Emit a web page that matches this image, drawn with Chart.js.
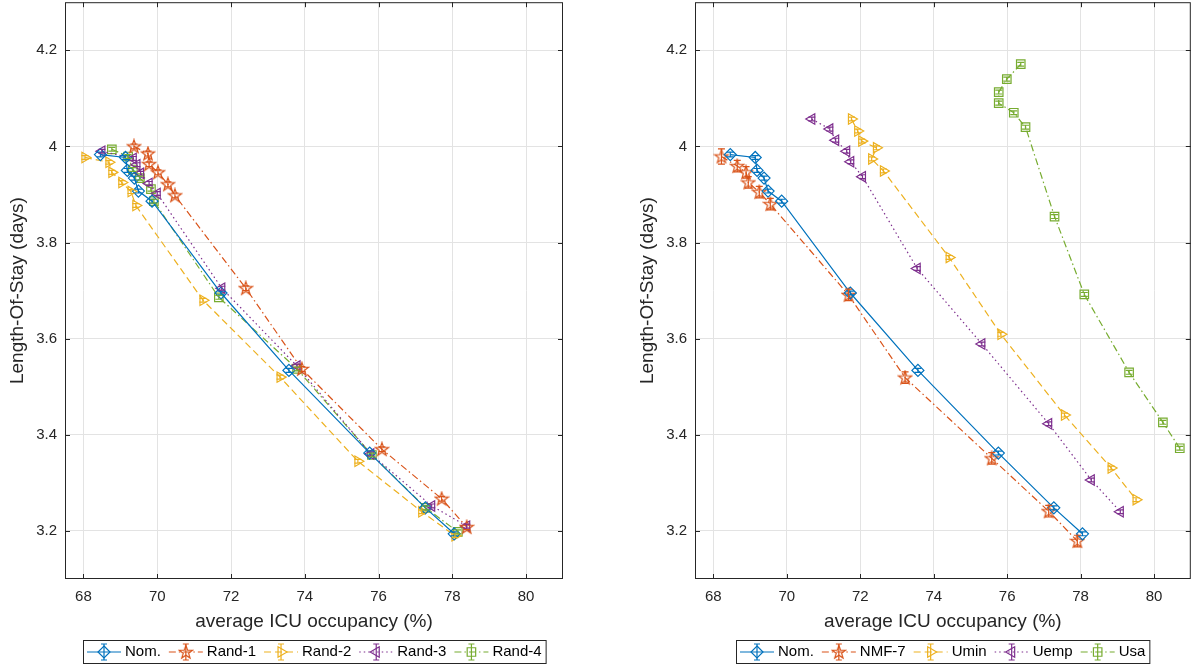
<!DOCTYPE html>
<html>
<head>
<meta charset="utf-8">
<script src="https://cdn.jsdelivr.net/npm/chart.js@4.4.0/dist/chart.umd.min.js"></script>
<style>
  html, body { margin: 0; padding: 0; background: #fff; overflow: hidden; }
  .panel { position: absolute; top: -5px; width: 599px; height: 671px; }
  #leftWrap { left: 0; }
  #rightWrap { left: 599px; }
</style>
</head>
<body>
<div class="panel" id="leftWrap"><canvas id="leftChart"></canvas></div>
<div class="panel" id="rightWrap"><canvas id="rightChart"></canvas></div>
<script>
// axis ticks
const xTicks = [68, 70, 72, 74, 76, 78, 80];
const yTicks = [3.2, 3.4, 3.6, 3.8, 4, 4.2];

// Nom. (same run on both panels)
const nomX = [68.46, 69.14, 69.19, 69.38, 69.49, 69.86, 71.73, 73.57, 75.76, 77.27, 78.05];
const nomY = [3.983, 3.977, 3.950, 3.934, 3.907, 3.886, 3.695, 3.534, 3.362, 3.248, 3.194];
const nomErr = [0.005, 0.004, 0.004, 0.004, 0.004, 0.004, 0.004, 0.004, 0.004, 0.004, 0.004];

// left panel
const rand1X = [69.37, 69.75, 69.78, 70.02, 70.29, 70.48, 72.40, 73.92, 76.09, 77.71, 78.39];
const rand1Y = [4.000, 3.985, 3.963, 3.946, 3.921, 3.898, 3.705, 3.537, 3.370, 3.267, 3.208];
const rand1Err = [0.005, 0.005, 0.005, 0.005, 0.005, 0.005, 0.005, 0.005, 0.005, 0.005, 0.005];

const rand2X = [68.04, 68.69, 68.77, 69.04, 69.29, 69.42, 71.24, 73.33, 75.44, 77.17, 78.07];
const rand2Y = [3.977, 3.967, 3.946, 3.925, 3.906, 3.877, 3.680, 3.520, 3.345, 3.240, 3.190];
const rand2Err = [0.004, 0.004, 0.004, 0.004, 0.004, 0.004, 0.004, 0.004, 0.004, 0.004, 0.004];

const rand3X = [68.50, 69.35, 69.45, 69.55, 69.78, 70.00, 71.75, 73.79, 75.79, 77.44, 78.39];
const rand3Y = [3.990, 3.975, 3.962, 3.944, 3.923, 3.902, 3.705, 3.543, 3.360, 3.252, 3.210];
const rand3Err = [0.004, 0.004, 0.004, 0.004, 0.004, 0.004, 0.004, 0.004, 0.004, 0.004, 0.004];

const rand4X = [68.77, 69.21, 69.34, 69.53, 69.83, 69.91, 71.67, 73.79, 75.82, 77.28, 78.15];
const rand4Y = [3.994, 3.979, 3.952, 3.934, 3.911, 3.886, 3.686, 3.537, 3.358, 3.248, 3.198];
const rand4Err = [0.004, 0.004, 0.004, 0.004, 0.004, 0.004, 0.004, 0.004, 0.004, 0.004, 0.004];

// right panel
const nmfX = [68.22, 68.65, 68.89, 68.95, 69.25, 69.55, 71.68, 73.22, 75.58, 77.13, 77.91];
const nmfY = [3.979, 3.959, 3.946, 3.925, 3.905, 3.880, 3.691, 3.519, 3.351, 3.241, 3.179];
const nmfErr = [0.016, 0.012, 0.012, 0.012, 0.012, 0.012, 0.012, 0.012, 0.012, 0.012, 0.012];

const uminX = [71.76, 71.93, 72.04, 72.44, 72.31, 72.63, 74.42, 75.83, 77.56, 78.83, 79.51];
const uminY = [4.057, 4.032, 4.011, 3.997, 3.974, 3.949, 3.769, 3.609, 3.441, 3.331, 3.265];
const uminErr = [0.004, 0.004, 0.004, 0.004, 0.004, 0.004, 0.004, 0.004, 0.004, 0.004, 0.004];

const uempX = [70.68, 71.17, 71.33, 71.63, 71.74, 72.06, 73.55, 75.31, 77.13, 78.29, 79.08];
const uempY = [4.057, 4.036, 4.013, 3.990, 3.968, 3.937, 3.746, 3.589, 3.423, 3.306, 3.240];
const uempErr = [0.004, 0.004, 0.004, 0.004, 0.004, 0.004, 0.004, 0.004, 0.004, 0.004, 0.004];

const usaX = [76.37, 75.99, 75.77, 75.77, 76.18, 76.50, 77.29, 78.10, 79.32, 80.24, 80.70];
const usaY = [4.171, 4.140, 4.113, 4.090, 4.070, 4.040, 3.854, 3.692, 3.530, 3.426, 3.372];
const usaErr = [0.004, 0.004, 0.004, 0.004, 0.004, 0.004, 0.004, 0.004, 0.004, 0.004, 0.004];

const BLUE = '#0072BD', RED = '#D95319', YELLOW = '#EDB120', PURPLE = '#7E2F8E', GREEN = '#77AC30';
const FONT = '"Liberation Sans", Arial, sans-serif';
const INK = '#262626';
const LW = 1.2;

// MATLAB style pentagram, stroked only
function starImage(color) {
    const c = document.createElement('canvas');
    c.width = 16; c.height = 16;
    const g = c.getContext('2d');
    g.strokeStyle = color;
    g.lineWidth = LW;
    g.beginPath();
    for (let i = 0; i < 10; i++) {
        const r = i % 2 === 0 ? 7 : 2.8;
        const a = -Math.PI / 2 + i * Math.PI / 5;
        const px = 8 + r * Math.cos(a), py = 8.4 + r * Math.sin(a);
        if (i === 0) g.moveTo(px, py); else g.lineTo(px, py);
    }
    g.closePath();
    g.stroke();
    return c;
}

const DASH_DOT = [7, 3, 1.5, 3];
const DASHED = [7, 4];
const DOTTED = [1.5, 3];

const M_DIAMOND = { shape: 'rectRot', r: 6 };
const M_STAR = { shape: starImage(RED), r: 6 };
const M_RIGHT = { shape: 'triangle', r: 6, rot: 90 };
const M_LEFT = { shape: 'triangle', r: 6, rot: -90 };
const M_SQUARE = { shape: 'rect', r: 6 };

function series(label, xs, ys, errs, color, marker, dash) {
    return {
        label,
        data: xs.map((x, i) => ({ x, y: ys[i] })),
        errors: errs,
        marker,
        borderColor: color,
        borderWidth: LW,
        borderDash: dash,
        showLine: true,
        fill: false,
        tension: 0,
        pointStyle: marker.shape,
        pointRotation: marker.rot || 0,
        pointRadius: marker.r,
        pointHoverRadius: marker.r,
        pointBorderColor: color,
        pointBackgroundColor: 'rgba(0,0,0,0)',
        pointBorderWidth: LW
    };
}

// draw a marker shape by hand (used in legend)
function drawMarker(ctx, marker, color, x, y) {
    ctx.save();
    ctx.strokeStyle = color;
    ctx.lineWidth = LW;
    ctx.setLineDash([]);
    const r = marker.r;
    if (typeof marker.shape !== 'string') {
        ctx.drawImage(marker.shape, x - marker.shape.width / 2, y - marker.shape.height / 2);
        ctx.restore();
        return;
    }
    ctx.beginPath();
    if (marker.shape === 'rectRot') {
        ctx.moveTo(x, y - r); ctx.lineTo(x + r, y); ctx.lineTo(x, y + r); ctx.lineTo(x - r, y);
    } else if (marker.shape === 'rect') {
        const s = r * Math.SQRT1_2;
        ctx.rect(x - s, y - s, 2 * s, 2 * s);
    } else if (marker.shape === 'triangle') {
        const rot = (marker.rot || 0) * Math.PI / 180;
        for (let i = 0; i < 3; i++) {
            const a = rot - Math.PI / 2 + i * 2 * Math.PI / 3;
            const px = x + r * Math.cos(a), py = y + r * Math.sin(a);
            if (i === 0) ctx.moveTo(px, py); else ctx.lineTo(px, py);
        }
    }
    ctx.closePath();
    ctx.stroke();
    ctx.restore();
}

// vertical error bars with caps
const errorBars = {
    id: 'errorBars',
    afterDatasetsDraw(chart) {
        const { ctx } = chart;
        const yScale = chart.scales.y;
        chart.data.datasets.forEach((ds, di) => {
            const meta = chart.getDatasetMeta(di);
            ctx.save();
            ctx.strokeStyle = ds.borderColor;
            ctx.lineWidth = LW;
            ctx.setLineDash([]);
            meta.data.forEach((pt, i) => {
                const e = ds.errors[i];
                const v = ds.data[i].y;
                const yTop = yScale.getPixelForValue(v + e);
                const yBot = yScale.getPixelForValue(v - e);
                const cap = 3.5;
                ctx.beginPath();
                ctx.moveTo(pt.x, yTop); ctx.lineTo(pt.x, yBot);
                ctx.moveTo(pt.x - cap, yTop); ctx.lineTo(pt.x + cap, yTop);
                ctx.moveTo(pt.x - cap, yBot); ctx.lineTo(pt.x + cap, yBot);
                ctx.stroke();
            });
            ctx.restore();
        });
    }
};

// full box with inward ticks on all sides
const axesBox = {
    id: 'axesBox',
    afterDraw(chart) {
        const { ctx, chartArea: a } = chart;
        const xs = chart.scales.x, ys = chart.scales.y;
        ctx.save();
        ctx.strokeStyle = INK;
        ctx.lineWidth = 1;
        ctx.strokeRect(a.left + 0.5, a.top + 0.5, a.right - a.left - 1, a.bottom - a.top - 1);
        ctx.beginPath();
        xTicks.forEach(v => {
            const px = Math.round(xs.getPixelForValue(v)) + 0.5;
            ctx.moveTo(px, a.bottom); ctx.lineTo(px, a.bottom - 5);
            ctx.moveTo(px, a.top); ctx.lineTo(px, a.top + 5);
        });
        yTicks.forEach(v => {
            const py = Math.round(ys.getPixelForValue(v)) + 0.5;
            ctx.moveTo(a.left, py); ctx.lineTo(a.left + 5, py);
            ctx.moveTo(a.right, py); ctx.lineTo(a.right - 5, py);
        });
        ctx.stroke();
        ctx.restore();
    }
};

// boxed legend under the x label
const legendBox = {
    id: 'legendBox',
    afterDraw(chart) {
        const { ctx, chartArea: a } = chart;
        const sets = chart.data.datasets;
        const sample = 34, gapText = 4, gapItem = 8, padX = 4;
        ctx.save();
        ctx.font = '15px ' + FONT;
        const widths = sets.map(ds => sample + gapText + ctx.measureText(ds.label).width);
        const total = widths.reduce((s, w) => s + w, 0) + gapItem * (sets.length - 1) + padX * 2;
        const top = chart.height - 26, h = 23;
        let x = Math.round((a.left + a.right) / 2 - total / 2);
        ctx.strokeStyle = INK;
        ctx.lineWidth = 1;
        ctx.strokeRect(x + 0.5, top + 0.5, total, h);
        const cy = top + h / 2 + 0.5;
        x += padX;
        sets.forEach((ds, i) => {
            ctx.strokeStyle = ds.borderColor;
            ctx.lineWidth = LW;
            ctx.setLineDash(ds.borderDash || []);
            ctx.beginPath();
            ctx.moveTo(x, cy); ctx.lineTo(x + sample, cy);
            ctx.stroke();
            ctx.setLineDash([]);
            const mx = x + sample / 2;
            ctx.beginPath();
            ctx.moveTo(mx, cy - 8); ctx.lineTo(mx, cy + 8);
            ctx.moveTo(mx - 3, cy - 8); ctx.lineTo(mx + 3, cy - 8);
            ctx.moveTo(mx - 3, cy + 8); ctx.lineTo(mx + 3, cy + 8);
            ctx.stroke();
            drawMarker(ctx, ds.marker, ds.borderColor, mx, cy);
            ctx.fillStyle = '#000';
            ctx.textBaseline = 'middle';
            ctx.textAlign = 'left';
            ctx.fillText(ds.label, x + sample + gapText, cy);
            x += widths[i] + gapItem;
        });
        ctx.restore();
    }
};

function makeChart(id, datasets, padLeft, padRight) {
    return new Chart(document.getElementById(id), {
        type: 'scatter',
        data: { datasets },
        plugins: [errorBars, axesBox, legendBox],
        options: {
            responsive: true,
            maintainAspectRatio: false,
            animation: false,
            events: [],
            layout: { padding: { left: padLeft, right: padRight, top: 2, bottom: 31 } },
            plugins: { legend: { display: false }, tooltip: { enabled: false } },
            scales: {
                x: {
                    type: 'linear',
                    min: 67.5,
                    max: 81,
                    afterBuildTicks: s => { s.ticks = xTicks.map(v => ({ value: v })); },
                    afterFit: s => { s.height = 56; s.paddingLeft = 0; s.paddingRight = 0; },
                    grid: { color: '#e3e3e3', drawTicks: false },
                    border: { display: false },
                    ticks: { color: INK, padding: 9, font: { family: FONT, size: 15 }, callback: v => String(v) },
                    title: { display: true, text: 'average ICU occupancy (%)', color: INK, padding: { top: 0, bottom: 2 }, font: { family: FONT, size: 19 } }
                },
                y: {
                    type: 'linear',
                    min: 3.1,
                    max: 4.3,
                    afterBuildTicks: s => { s.ticks = yTicks.map(v => ({ value: v })); },
                    afterFit: s => { s.width = 65; s.paddingTop = 0; s.paddingBottom = 0; },
                    grid: { color: '#e3e3e3', drawTicks: false },
                    border: { display: false },
                    ticks: { color: INK, padding: 8, font: { family: FONT, size: 15 }, callback: v => String(v) },
                    title: { display: true, text: 'Length-Of-Stay (days)', color: INK, padding: { top: 6, bottom: 0 }, font: { family: FONT, size: 19 } }
                }
            }
        }
    });
}

makeChart('leftChart', [
    series('Nom.', nomX, nomY, nomErr, BLUE, M_DIAMOND, []),
    series('Rand-1', rand1X, rand1Y, rand1Err, RED, M_STAR, DASH_DOT),
    series('Rand-2', rand2X, rand2Y, rand2Err, YELLOW, M_RIGHT, DASHED),
    series('Rand-3', rand3X, rand3Y, rand3Err, PURPLE, M_LEFT, DOTTED),
    series('Rand-4', rand4X, rand4Y, rand4Err, GREEN, M_SQUARE, DASH_DOT)
], 0, 36);

makeChart('rightChart', [
    series('Nom.', nomX, nomY, nomErr, BLUE, M_DIAMOND, []),
    series('NMF-7', nmfX, nmfY, nmfErr, RED, M_STAR, DASH_DOT),
    series('Umin', uminX, uminY, uminErr, YELLOW, M_RIGHT, DASHED),
    series('Uemp', uempX, uempY, uempErr, PURPLE, M_LEFT, DOTTED),
    series('Usa', usaX, usaY, usaErr, GREEN, M_SQUARE, DASH_DOT)
], 31, 4);
</script>
</body>
</html>
